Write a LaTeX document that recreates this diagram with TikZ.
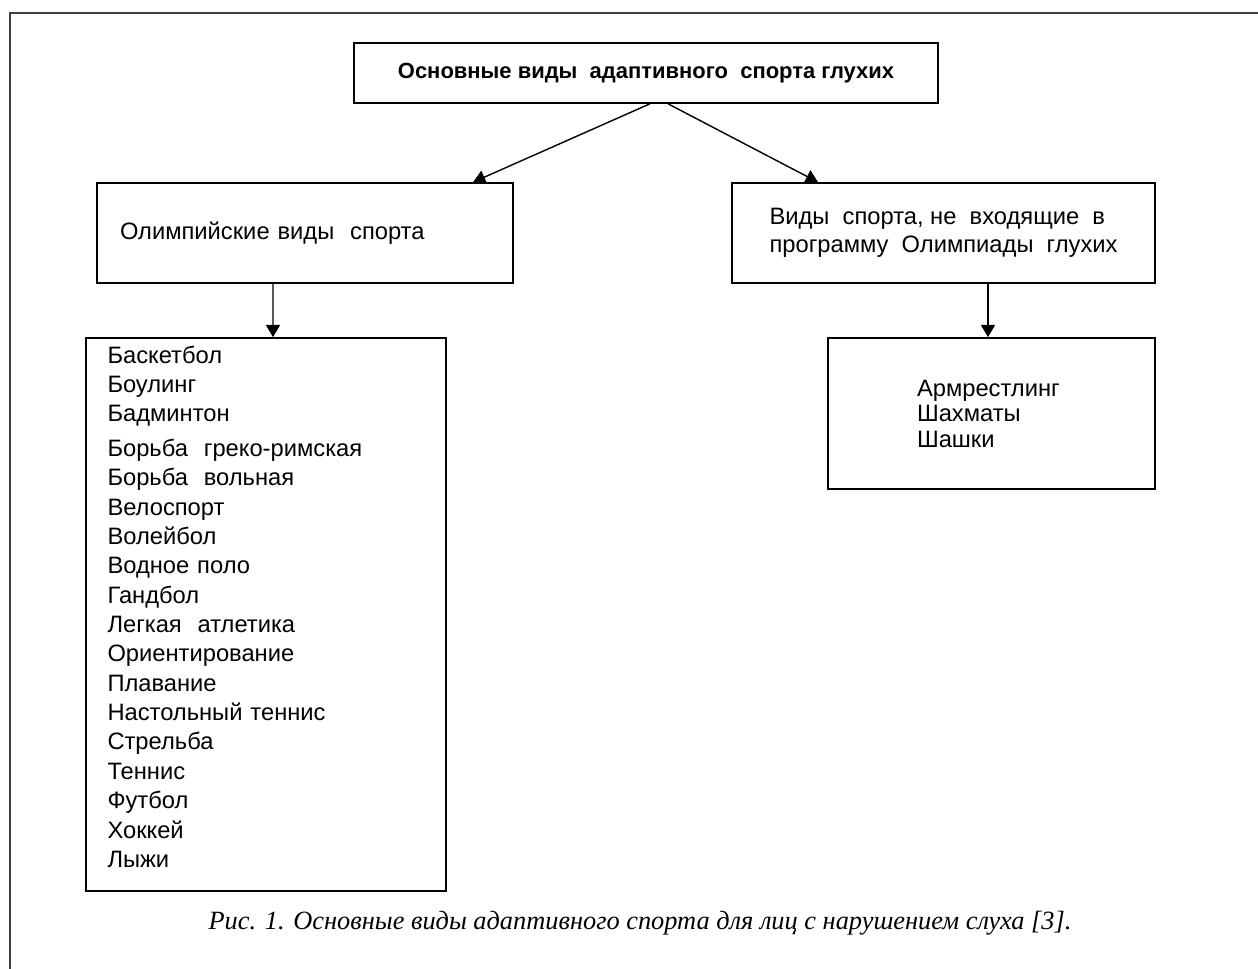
\documentclass[tikz,border=0pt]{standalone}
\usepackage{fontspec}
\setmainfont{Liberation Sans}
\newfontfamily\capfont{Liberation Serif}
\usetikzlibrary{arrows.meta, positioning}

\begin{document}
\begin{tikzpicture}[
        >={Triangle[width=8pt,length=7pt]},
        every node/.style={font=\fontsize{13.5}{16}\selectfont},
        box/.style={draw, line width=0.9pt, inner sep=0pt},
        link/.style={->, line width=0.8pt}
    ]
    \useasboundingbox (0,0) rectangle (25.16,-19.38);
    \draw[line width=1.1pt, black!75] (0.2,-19.38) -- (0.2,-0.26) -- (25.16,-0.26);
    \node[box, minimum width=11.68cm, minimum height=1.2cm, font=\fontsize{12.5}{16}\selectfont\bfseries] (top) at (12.92,-1.46) {Основные виды~ адаптивного~ спорта глухих};
    \node[box, text width=7.40cm, inner xsep=0.46cm, minimum height=2cm, align=left] (olymp) at (6.10,-4.66) {Олимпийские виды~ спорта};
    \node[box, minimum width=8.46cm, minimum height=2cm, align=left, font=\fontsize{13.5}{15.9}\selectfont] (other) at (18.87,-4.66) {Виды~ спорта, не~ входящие~ в\\программу~ Олимпиады~ глухих};
    \node[box, text width=6.34cm, inner xsep=0.43cm, minimum height=11.06cm, align=left, font=\fontsize{13.5}{16.7}\selectfont] (list) at (5.32,-12.29) {Баскетбол\\Боулинг\\Бадминтон\\[3pt]Борьба~ греко-римская\\Борьба~ вольная\\Велоспорт\\Волейбол\\Водное поло\\Гандбол\\Легкая~ атлетика\\Ориентирование\\Плавание\\Настольный теннис\\Стрельба\\Теннис\\Футбол\\Хоккей\\Лыжи\rule[-9pt]{0pt}{9pt}};
    \node[box, text width=2.98cm, inner xsep=1.78cm, minimum height=3.02cm, align=left, font=\fontsize{13.5}{14.5}\selectfont] (rest) at (19.83,-8.27) {Армрестлинг\\Шахматы\\Шашки};
    \node[font=\capfont\itshape\fontsize{15}{18}\selectfont] (cap) at (12.8,-18.46) {Рис. 1. Основные виды адаптивного спорта для лиц с нарушением слуха [3].};
    \draw[link] ([xshift=0.08cm]top.south) -- ([xshift=3.36cm]olymp.north);
    \draw[link] ([xshift=0.44cm]top.south) -- ([xshift=-2.51cm]other.north);
    \draw[link] ([xshift=-0.64cm]olymp.south) -- ([xshift=0.14cm]list.north);
    \draw[link] ([xshift=0.89cm]other.south) -- ([xshift=-0.07cm]rest.north);
\end{tikzpicture}
\end{document}
